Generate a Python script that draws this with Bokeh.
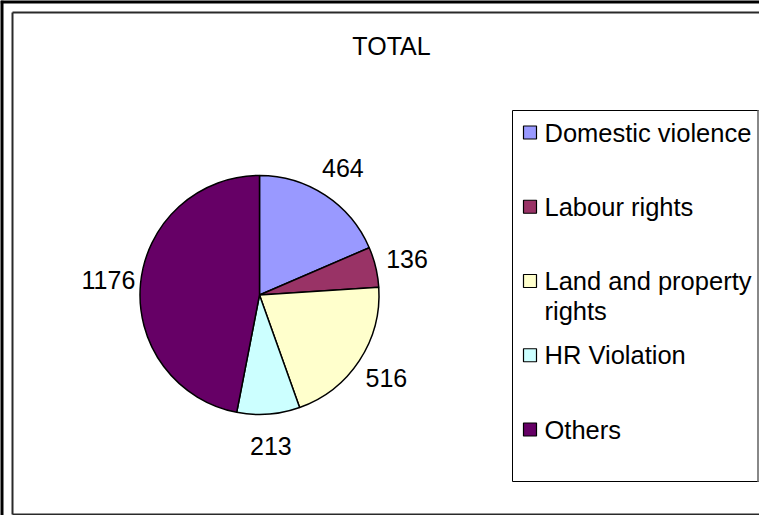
import numpy as np
from bokeh.plotting import figure
from bokeh.models import Range1d
from bokeh.core.properties import value
from bokeh.embed import file_html
from bokeh.resources import INLINE

# ---- data ----
title = "TOTAL"
categories = ["Domestic violence", "Labour rights", "Land and property\nrights", "HR Violation", "Others"]
counts = [464, 136, 516, 213, 1176]
colors = ["#9999FF", "#993366", "#FFFFCC", "#CCFFFF", "#660066"]

FONT = value("Liberation Sans")
W, H = 759, 515

p = figure(width=W, height=H, output_backend="svg", toolbar_location=None,
           x_range=Range1d(0, W), y_range=Range1d(0, H), min_border=0,
           x_axis_location=None, y_axis_location=None)
p.grid.visible = False
p.outline_line_color = None
p.background_fill_color = "white"
p.border_fill_color = "white"

# ---- frames (decoration) ----
p.segment(x0=[1, 0], y0=[0, 514], x1=[1, W], y1=[H, 514], line_width=4, line_color="black")
p.segment(x0=[12, 12, 12], y0=[1, 503, 1], x1=[12, W, W], y1=[503, 503, 1],
          line_width=2, line_color="#2a2a2a")

# ---- pie ----
cx, cy, r = 259, 220.5, 119.5
vals = np.array(counts, dtype=float)
total = vals.sum()
cum = np.concatenate([[0], np.cumsum(vals)])
start = np.pi / 2 - cum[:-1] / total * 2 * np.pi
end = np.pi / 2 - cum[1:] / total * 2 * np.pi
p.wedge(x=cx, y=cy, radius=r, start_angle=start, end_angle=end, direction="clock",
        fill_color=colors, line_color="black", line_width=1.5)

mid = (start + end) / 2
R = r * 1.27
p.text(x=cx + R * np.cos(mid), y=cy + R * np.sin(mid), text=[str(c) for c in counts],
       text_font=FONT, text_font_size="25px", text_align="center", text_baseline="middle",
       text_color="black")

# ---- title ----
p.text(x=[391], y=[470], text=[title], text_font=FONT, text_font_size="25px",
       text_align="center", text_baseline="middle", text_color="black")

# ---- legend ----
p.quad(left=[512], right=[758], top=[405], bottom=[34], fill_color="white",
       line_color="black", line_width=1)
p.segment(x0=[757.5], y0=[34], x1=[757.5], y1=[405], line_color="#888888", line_width=2)
row_y = np.array([523 - (140 + 74.25 * i) for i in range(len(categories))])
p.rect(x=[529.5] * len(categories), y=row_y, width=13, height=13,
       fill_color=colors, line_color="black", line_width=1.2)
lx, ly, lt = [], [], []
for yy, lab in zip(row_y, categories):
    for k, line in enumerate(lab.split("\n")):
        lx.append(544)
        ly.append(yy - 30 * k)
        lt.append(line)
p.text(x=lx, y=ly, text=lt, text_font=FONT, text_font_size="25.5px",
       text_align="left", text_baseline="middle", text_color="black")

open("out.html", "w").write(file_html(p, INLINE))
